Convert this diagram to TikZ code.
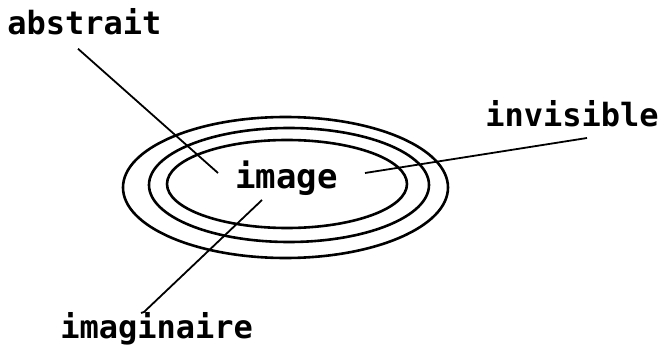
\documentclass[tikz,border=0pt]{standalone}
\usepackage{fontspec}
\setmonofont{DejaVu Sans Mono}
\usetikzlibrary{positioning}

\begin{document}
\begin{tikzpicture}[x=1pt, y=-1pt, line width=2.6pt,
  lbl/.style={font=\ttfamily\bfseries\fontsize{32}{32}\selectfont, inner sep=0pt, anchor=base west}]
        \useasboundingbox (0,0) rectangle (662,345);
        % the three rings
        \draw (285.5,187.5) ellipse [x radius=162.5, y radius=70.5];
        \draw (289,185) ellipse [x radius=140, y radius=57];
        \draw (287,184) ellipse [x radius=120, y radius=44];

        \node [lbl, font=\ttfamily\bfseries\fontsize{34}{34}\selectfont] (image) at (234,188) {image};
        \node [lbl] (abstrait) at (6,35) {abstrait};
        \node [lbl] (invisible) at (484,127) {invisible};
        \node [lbl] (imaginaire) at (59,338) {imaginaire};

        \coordinate (abstrait-tip) at (218,173);
        \coordinate (invisible-tip) at (365,173);
        \coordinate (imaginaire-tip) at (262,200);

        \draw [line width=1.8pt] (abstrait.south west) ++(72,12) coordinate (abstrait-end) -- (abstrait-tip);
        \draw [line width=1.8pt] (invisible-tip) -- (587,138) coordinate (invisible-end);
        \draw [line width=1.8pt] (imaginaire-tip) -- (144,312) coordinate (imaginaire-end) -- ++(-3,1);
    \end{tikzpicture}
\end{document}
